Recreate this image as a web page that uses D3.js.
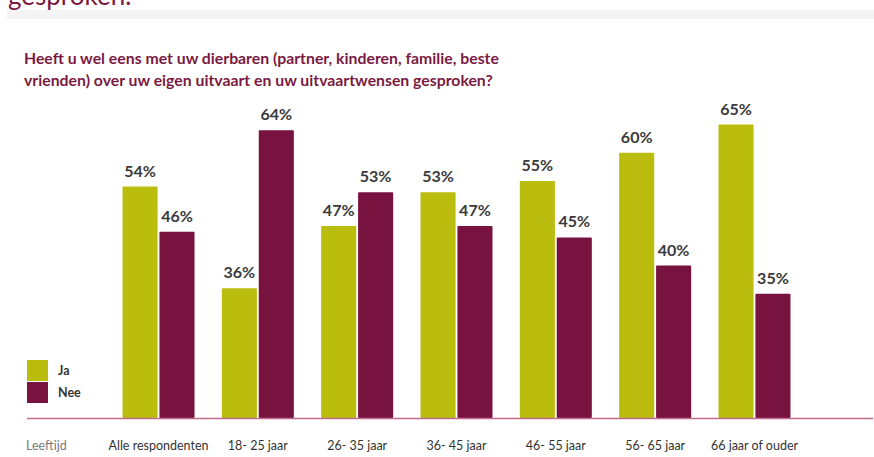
<!DOCTYPE html>
<html>
<head>
<meta charset="utf-8">
<script src="https://cdn.jsdelivr.net/npm/d3@7"></script>
<style>
  body { margin: 0; background: #fff; }
  svg { display: block; font-family: Lato, "Open Sans", sans-serif; }
</style>
</head>
<body>
<div id="chart"></div>
<script>
// Data
const categories = ["Alle respondenten", "18- 25 jaar", "26- 35 jaar", "36- 45 jaar",
  "46- 55 jaar", "56- 65 jaar", "66 jaar of ouder"];
const jaValues  = [54, 36, 47, 53, 55, 60, 65];
const neeValues = [46, 64, 53, 47, 45, 40, 35];
const seriesNames = ["Ja", "Nee"];
const colors = { Ja: "#bbbd0e", Nee: "#78123f" };

const W = 874, H = 457;
const baseY = 418;

const svg = d3.select("#chart").append("svg")
  .attr("width", W)
  .attr("height", H);

// cut-off heading from page above + grey band
svg.append("text")
  .attr("x", 8).attr("y", 5)
  .attr("font-size", "26px")
  .attr("fill", "#7a1a42")
  .text("gesproken.");

svg.append("rect")
  .attr("x", 7).attr("y", 10)
  .attr("width", W - 7).attr("height", 9)
  .attr("fill", "#f4f4f4");

// Title
const title = svg.append("text")
  .attr("font-size", "15.8px")
  .attr("font-weight", 700)
  .attr("fill", "#7a1a42");
title.append("tspan").attr("x", 24).attr("y", 64)
  .text("Heeft u wel eens met uw dierbaren (partner, kinderen, familie, beste");
title.append("tspan").attr("x", 24).attr("y", 86)
  .text("vrienden) over uw eigen uitvaart en uw uitvaartwensen gesproken?");

// Scales
const x = d3.scaleBand()
  .domain(categories)
  .range([122.5, 790.5])
  .paddingInner(0.275)
  .paddingOuter(0);

const xs = d3.scaleBand()
  .domain(seriesNames)
  .range([0, x.bandwidth()])
  .paddingInner(0.05);

// the original chart's bars are scaled from roughly 13%
const y = d3.scaleLinear()
  .domain([13, 65])
  .range([baseY, 124.5]);

const rows = categories.map((c, i) => ({ cat: c, Ja: jaValues[i], Nee: neeValues[i] }));

// Bars
const groups = svg.selectAll(".grp")
  .data(rows)
  .enter().append("g")
  .attr("class", "grp")
  .attr("transform", d => `translate(${x(d.cat)},0)`);

const segs = groups.selectAll("g.bar")
  .data(d => seriesNames.map(k => ({ key: k, value: d[k] })))
  .enter().append("g").attr("class", "bar");

segs.append("rect")
  .attr("x", d => xs(d.key))
  .attr("y", d => y(d.value))
  .attr("width", xs.bandwidth())
  .attr("height", d => baseY - y(d.value))
  .attr("rx", 1)
  .attr("fill", d => colors[d.key]);

segs.append("text")
  .attr("x", d => xs(d.key) + xs.bandwidth() / 2)
  .attr("y", d => y(d.value) - 10)
  .attr("text-anchor", "middle")
  .attr("font-size", "16px")
  .attr("font-weight", 700)
  .attr("fill", "#3a3a3a")
  .text(d => d.value + "%");

// Baseline
svg.append("line")
  .attr("x1", 27).attr("x2", 873)
  .attr("y1", baseY + 0.5).attr("y2", baseY + 0.5)
  .attr("stroke", "#c06a8c")
  .attr("stroke-width", 1.6);

// Category labels
groups.append("text")
  .attr("x", x.bandwidth() / 2)
  .attr("y", 450)
  .attr("text-anchor", "middle")
  .attr("font-size", "12.5px")
  .attr("fill", "#333")
  .text(d => d.cat);

svg.append("text")
  .attr("x", 26).attr("y", 450)
  .attr("font-size", "12.5px")
  .attr("fill", "#7a7a7a")
  .text("Leeftijd");

// Legend
const legend = svg.selectAll(".leg")
  .data(seriesNames)
  .enter().append("g")
  .attr("class", "leg")
  .attr("transform", (d, i) => `translate(27,${360 + i * 22})`);

legend.append("rect")
  .attr("width", 21).attr("height", 21)
  .attr("fill", d => colors[d]);

legend.append("text")
  .attr("x", 31).attr("y", 15)
  .attr("font-size", "12.5px")
  .attr("font-weight", 700)
  .attr("fill", "#333")
  .text(d => d);
</script>
</body>
</html>
